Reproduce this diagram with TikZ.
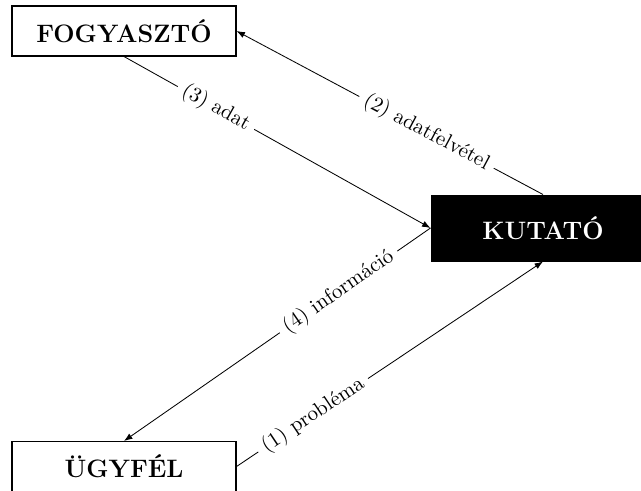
\documentclass[tikz,border=0pt]{standalone}
\usepackage{fontspec}
\usetikzlibrary{arrows.meta}
\begin{document}
\begin{tikzpicture}[x=0.476pt,y=-0.476pt,
  box/.style={draw, line width=0.5pt, minimum width=106.6pt, minimum height=23.8pt,
    inner sep=2pt, font=\large\bfseries},
  conn/.style={draw, line width=0.4pt, -{Latex[length=4pt,width=3pt]}},
  lbl/.style={sloped, fill=white, inner sep=3pt, font=\normalsize}]
  \useasboundingbox (0,0) rectangle (641,490);
  % the three parties
  \node[box] (fogy) at (124,31) {FOGYASZTÓ};
  \node[box, fill=black, text=white, minimum height=31.4pt] (kut) at (543,228) {KUTATÓ};
  \node[box] (ugy) at (124,466.5) {ÜGYFÉL};
  % the flow between them
  \draw[conn] (kut.north) -- node[lbl, pos=0.38] {(2) adatfelvétel} (fogy.east);
  \draw[conn] (fogy.south) -- node[lbl, pos=0.30] {(3) adat} (kut.west);
  \draw[conn] (kut.west) -- node[lbl, pos=0.30] {(4) információ} (ugy.north);
  \draw[conn] (ugy.east) -- node[lbl, pos=0.25] {(1) probléma} (kut.south);
\end{tikzpicture}
\end{document}
